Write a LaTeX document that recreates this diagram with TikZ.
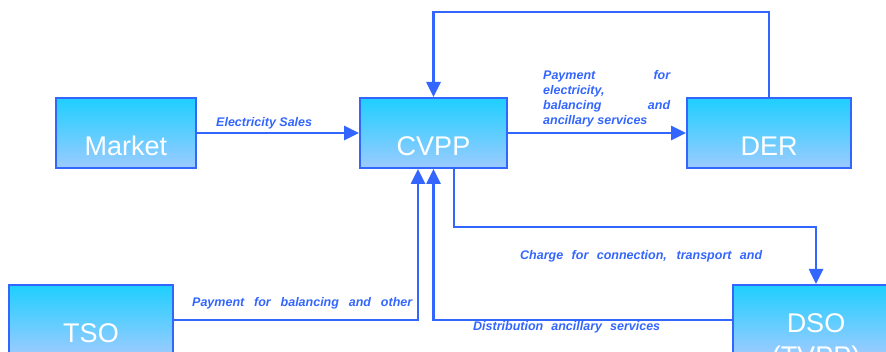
\documentclass[tikz,border=0pt]{standalone}
\usepackage{fontspec}
\setmainfont{Liberation Sans}
\usetikzlibrary{arrows.meta}
\definecolor{flowblue}{HTML}{3366FF}
\definecolor{boxtop}{HTML}{1ECFFF}
\definecolor{boxbottom}{HTML}{9CCBFF}
\tikzset{
  actor/.style={draw=flowblue, line width=2pt, top color=boxtop, bottom color=boxbottom,
    minimum height=70pt, inner sep=0pt},
  actortext/.style={anchor=base, inner sep=0pt, text=white, font=\fontsize{27}{30}\selectfont},
  flow/.style={draw=flowblue, line width=2.6pt, -{Triangle[length=15pt,width=14pt]}},
  flowlabel/.style={anchor=base west, inner sep=0pt, text=flowblue,
    font=\fontsize{12.5}{15}\selectfont\bfseries\itshape}
}
\begin{document}
\begin{tikzpicture}[x=1pt,y=-1pt]
  \useasboundingbox (0,0) rectangle (886,352);
  \clip (0,0) rectangle (886,352);

  % actors
  \node[actor, minimum width=140pt] (market) at (126,133) {};
  \node[actor, minimum width=147pt] (cvpp) at (433.5,133) {};
  \node[actor, minimum width=164pt] (der) at (769,133) {};
  \node[actor, minimum width=164pt] (tso) at (91,320) {};
  \node[actor, minimum width=166pt] (dso) at (816,320) {};

  \node[actortext] (markettxt) at (126,156) {Market};
  \node[actortext] (cvpptxt) at (433.5,156) {CVPP};
  \node[actortext] (dertxt) at (769,156) {DER};
  \node[actortext] (tsotxt) at (91,343) {TSO};
  \node[actortext] (dsotxt) at (816,333) {DSO};
  \node[actortext] (tvpptxt) at (816,366) {(TVPP)};

  % money and service flows
  \draw[flow] (market.east) -- (cvpp.west);
  \draw[flow] (cvpp.east) -- (der.west);
  \coordinate (looptop) at (769,12);
  \draw[flow] (der.north) -- (looptop) -| (cvpp.north);
  \coordinate (dsobend) at (454,227);
  \draw[flow] (cvpp.south -| dsobend) -- (dsobend) -| (dso.north);
  \draw[flow] (tso.east) -| ([xshift=-15.5pt]cvpp.south);
  \draw[flow] (dso.west) -| (cvpp.south);

  % flow labels
  \node[flowlabel] (lsales) at (216,127) {Electricity Sales};
  \node[flowlabel] (lpay1) at (543,80) {\makebox[127pt][s]{Payment for}};
  \node[flowlabel] (lpay2) at (543,95) {electricity,};
  \node[flowlabel] (lpay3) at (543,110) {\makebox[127pt][s]{balancing and}};
  \node[flowlabel] (lpay4) at (543,125) {ancillary services};
  \node[flowlabel] (ltso) at (192,306.5) {\makebox[220pt][s]{Payment for balancing and other}};
  \node[flowlabel] (lcharge) at (520,260) {\makebox[242pt][s]{Charge for connection, transport and}};
  \node[flowlabel] (ldist) at (473,330.5) {\makebox[187pt][s]{Distribution ancillary services}};
\end{tikzpicture}
\end{document}
